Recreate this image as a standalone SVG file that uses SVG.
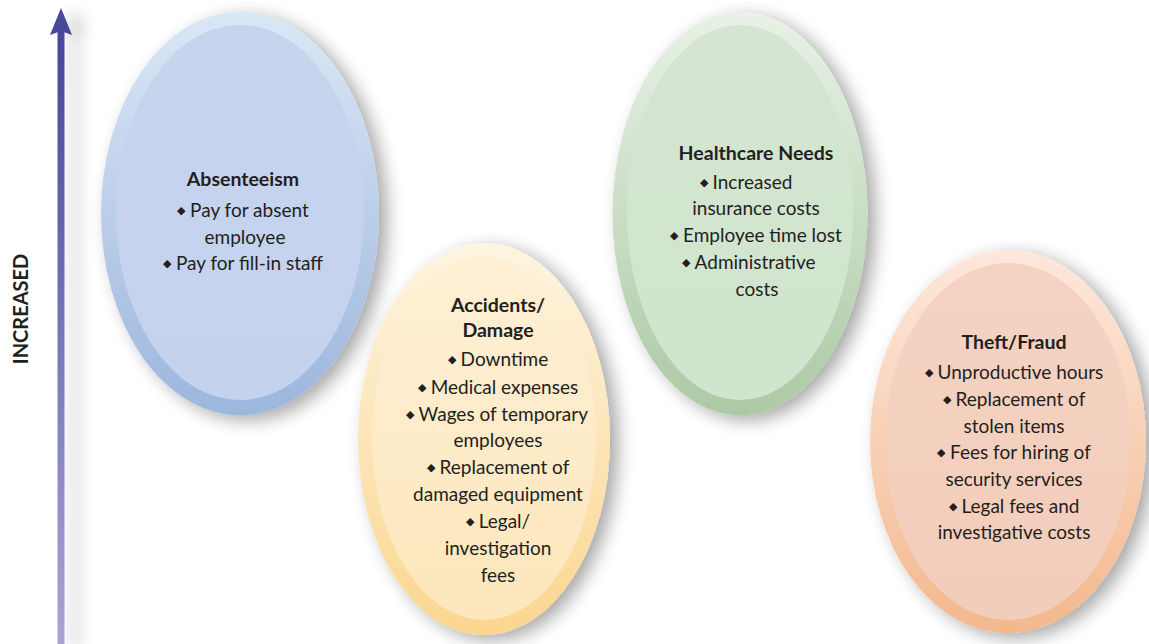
<svg xmlns="http://www.w3.org/2000/svg" width="1149" height="644" viewBox="0 0 1149 644">
<defs>
<filter id="sh" x="-20%" y="-20%" width="140%" height="140%">
<feGaussianBlur in="SourceAlpha" stdDeviation="9"/>
<feOffset dx="8" dy="5" result="b"/>
<feComponentTransfer><feFuncA type="linear" slope="0.35"/></feComponentTransfer>
<feMerge><feMergeNode/><feMergeNode in="SourceGraphic"/></feMerge>
</filter>
<filter id="ash" x="-300%" y="-5%" width="700%" height="110%">
<feGaussianBlur in="SourceAlpha" stdDeviation="8"/>
<feOffset dx="14" dy="0"/>
<feComponentTransfer><feFuncA type="linear" slope="0.2"/></feComponentTransfer>
<feMerge><feMergeNode/><feMergeNode in="SourceGraphic"/></feMerge>
</filter>
<linearGradient id="arr" x1="0" y1="0" x2="0" y2="1">
<stop offset="0" stop-color="#47479b"/>
<stop offset="1" stop-color="#aba5d6"/>
</linearGradient>
<linearGradient id="bR" x1="0" y1="0" x2="0" y2="1"><stop offset="0" stop-color="#dae7f6"/><stop offset="1" stop-color="#9db6dd"/></linearGradient>
<linearGradient id="bI" x1="0" y1="0" x2="0" y2="1"><stop offset="0" stop-color="#c6d4ee"/><stop offset="1" stop-color="#c4d2ed"/></linearGradient>
<linearGradient id="yR" x1="0" y1="0" x2="0" y2="1"><stop offset="0" stop-color="#fef4e0"/><stop offset="1" stop-color="#fbd690"/></linearGradient>
<linearGradient id="yI" x1="0" y1="0" x2="0" y2="1"><stop offset="0" stop-color="#fef0d6"/><stop offset="1" stop-color="#fde6bb"/></linearGradient>
<linearGradient id="gR" x1="0" y1="0" x2="0" y2="1"><stop offset="0" stop-color="#e8f2e6"/><stop offset="1" stop-color="#acc9a4"/></linearGradient>
<linearGradient id="gI" x1="0" y1="0" x2="0" y2="1"><stop offset="0" stop-color="#d4e6d1"/><stop offset="1" stop-color="#d1e4ce"/></linearGradient>
<linearGradient id="oR" x1="0" y1="0" x2="0" y2="1"><stop offset="0" stop-color="#fde8dc"/><stop offset="1" stop-color="#f3b88d"/></linearGradient>
<linearGradient id="oI" x1="0" y1="0" x2="0" y2="1"><stop offset="0" stop-color="#f5d2c2"/><stop offset="1" stop-color="#f3cdbb"/></linearGradient>
</defs>
<style>
text{font-family:Lato,"Open Sans","Liberation Sans",sans-serif;fill:#231f20;text-anchor:middle}
.t{font-size:19.5px;font-weight:bold}
.b{font-size:19px}
.d{font-size:11px}
.ax{font-size:20px;font-weight:bold}
</style>
<rect width="1149" height="644" fill="#ffffff"/>
<g id="connectors">
<g filter="url(#ash)">
<rect x="57.5" y="30" width="7" height="620" fill="url(#arr)"/>
<polygon points="61,8 72,35 61,31 50,35" fill="#47479b"/>
</g>
<text class="ax" transform="translate(28,309) rotate(-90)">INCREASED</text>
</g>
<g id="absenteeism">
<ellipse cx="240" cy="213.5" rx="139" ry="201.5" fill="url(#bR)" filter="url(#sh)"/>
<ellipse cx="240" cy="212.5" rx="124" ry="187.5" fill="url(#bI)"/>
<text class="t" x="243" y="186">Absenteeism</text>
<text class="b" x="243" y="217"><tspan class="d" dy="-3">◆</tspan><tspan dy="3"> Pay for absent</tspan></text>
<text class="b" x="245" y="244">employee</text>
<text class="b" x="243" y="270"><tspan class="d" dy="-3">◆</tspan><tspan dy="3"> Pay for fill-in staff</tspan></text>
</g>
<g id="accidents">
<ellipse cx="484" cy="439" rx="126" ry="196" fill="url(#yR)" filter="url(#sh)"/>
<ellipse cx="484" cy="438.5" rx="112" ry="181.5" fill="url(#yI)"/>
<text class="t" x="498" y="312">Accidents/</text>
<text class="t" x="498" y="337">Damage</text>
<text class="b" x="498" y="366"><tspan class="d" dy="-3">◆</tspan><tspan dy="3"> Downtime</tspan></text>
<text class="b" x="498" y="394"><tspan class="d" dy="-3">◆</tspan><tspan dy="3"> Medical expenses</tspan></text>
<text class="b" x="497" y="421"><tspan class="d" dy="-3">◆</tspan><tspan dy="3"> Wages of temporary</tspan></text>
<text class="b" x="498" y="447">employees</text>
<text class="b" x="498" y="474"><tspan class="d" dy="-3">◆</tspan><tspan dy="3"> Replacement of</tspan></text>
<text class="b" x="498" y="501">damaged equipment</text>
<text class="b" x="498" y="528"><tspan class="d" dy="-3">◆</tspan><tspan dy="3"> Legal/</tspan></text>
<text class="b" x="498" y="555">investigation</text>
<text class="b" x="498" y="582">fees</text>
</g>
<g id="healthcare">
<ellipse cx="740" cy="213.5" rx="127.5" ry="201.5" fill="url(#gR)" filter="url(#sh)"/>
<ellipse cx="740" cy="212.5" rx="113" ry="187.5" fill="url(#gI)"/>
<text class="t" x="756" y="160">Healthcare Needs</text>
<text class="b" x="746" y="189"><tspan class="d" dy="-3">◆</tspan><tspan dy="3"> Increased</tspan></text>
<text class="b" x="756" y="215">insurance costs</text>
<text class="b" x="756" y="242"><tspan class="d" dy="-3">◆</tspan><tspan dy="3"> Employee time lost</tspan></text>
<text class="b" x="749" y="269"><tspan class="d" dy="-3">◆</tspan><tspan dy="3"> Administrative</tspan></text>
<text class="b" x="757" y="296">costs</text>
</g>
<g id="theft">
<ellipse cx="1008" cy="441.5" rx="138" ry="191.5" fill="url(#oR)" filter="url(#sh)"/>
<ellipse cx="1008" cy="441.5" rx="123" ry="178.5" fill="url(#oI)"/>
<text class="t" x="1014" y="349">Theft/Fraud</text>
<text class="b" x="1014" y="379"><tspan class="d" dy="-3">◆</tspan><tspan dy="3"> Unproductive hours</tspan></text>
<text class="b" x="1014" y="406"><tspan class="d" dy="-3">◆</tspan><tspan dy="3"> Replacement of</tspan></text>
<text class="b" x="1014" y="433">stolen items</text>
<text class="b" x="1014" y="459"><tspan class="d" dy="-3">◆</tspan><tspan dy="3"> Fees for hiring of</tspan></text>
<text class="b" x="1014" y="486">security services</text>
<text class="b" x="1014" y="513"><tspan class="d" dy="-3">◆</tspan><tspan dy="3"> Legal fees and</tspan></text>
<text class="b" x="1014" y="539">investigative costs</text>
</g>
</svg>
